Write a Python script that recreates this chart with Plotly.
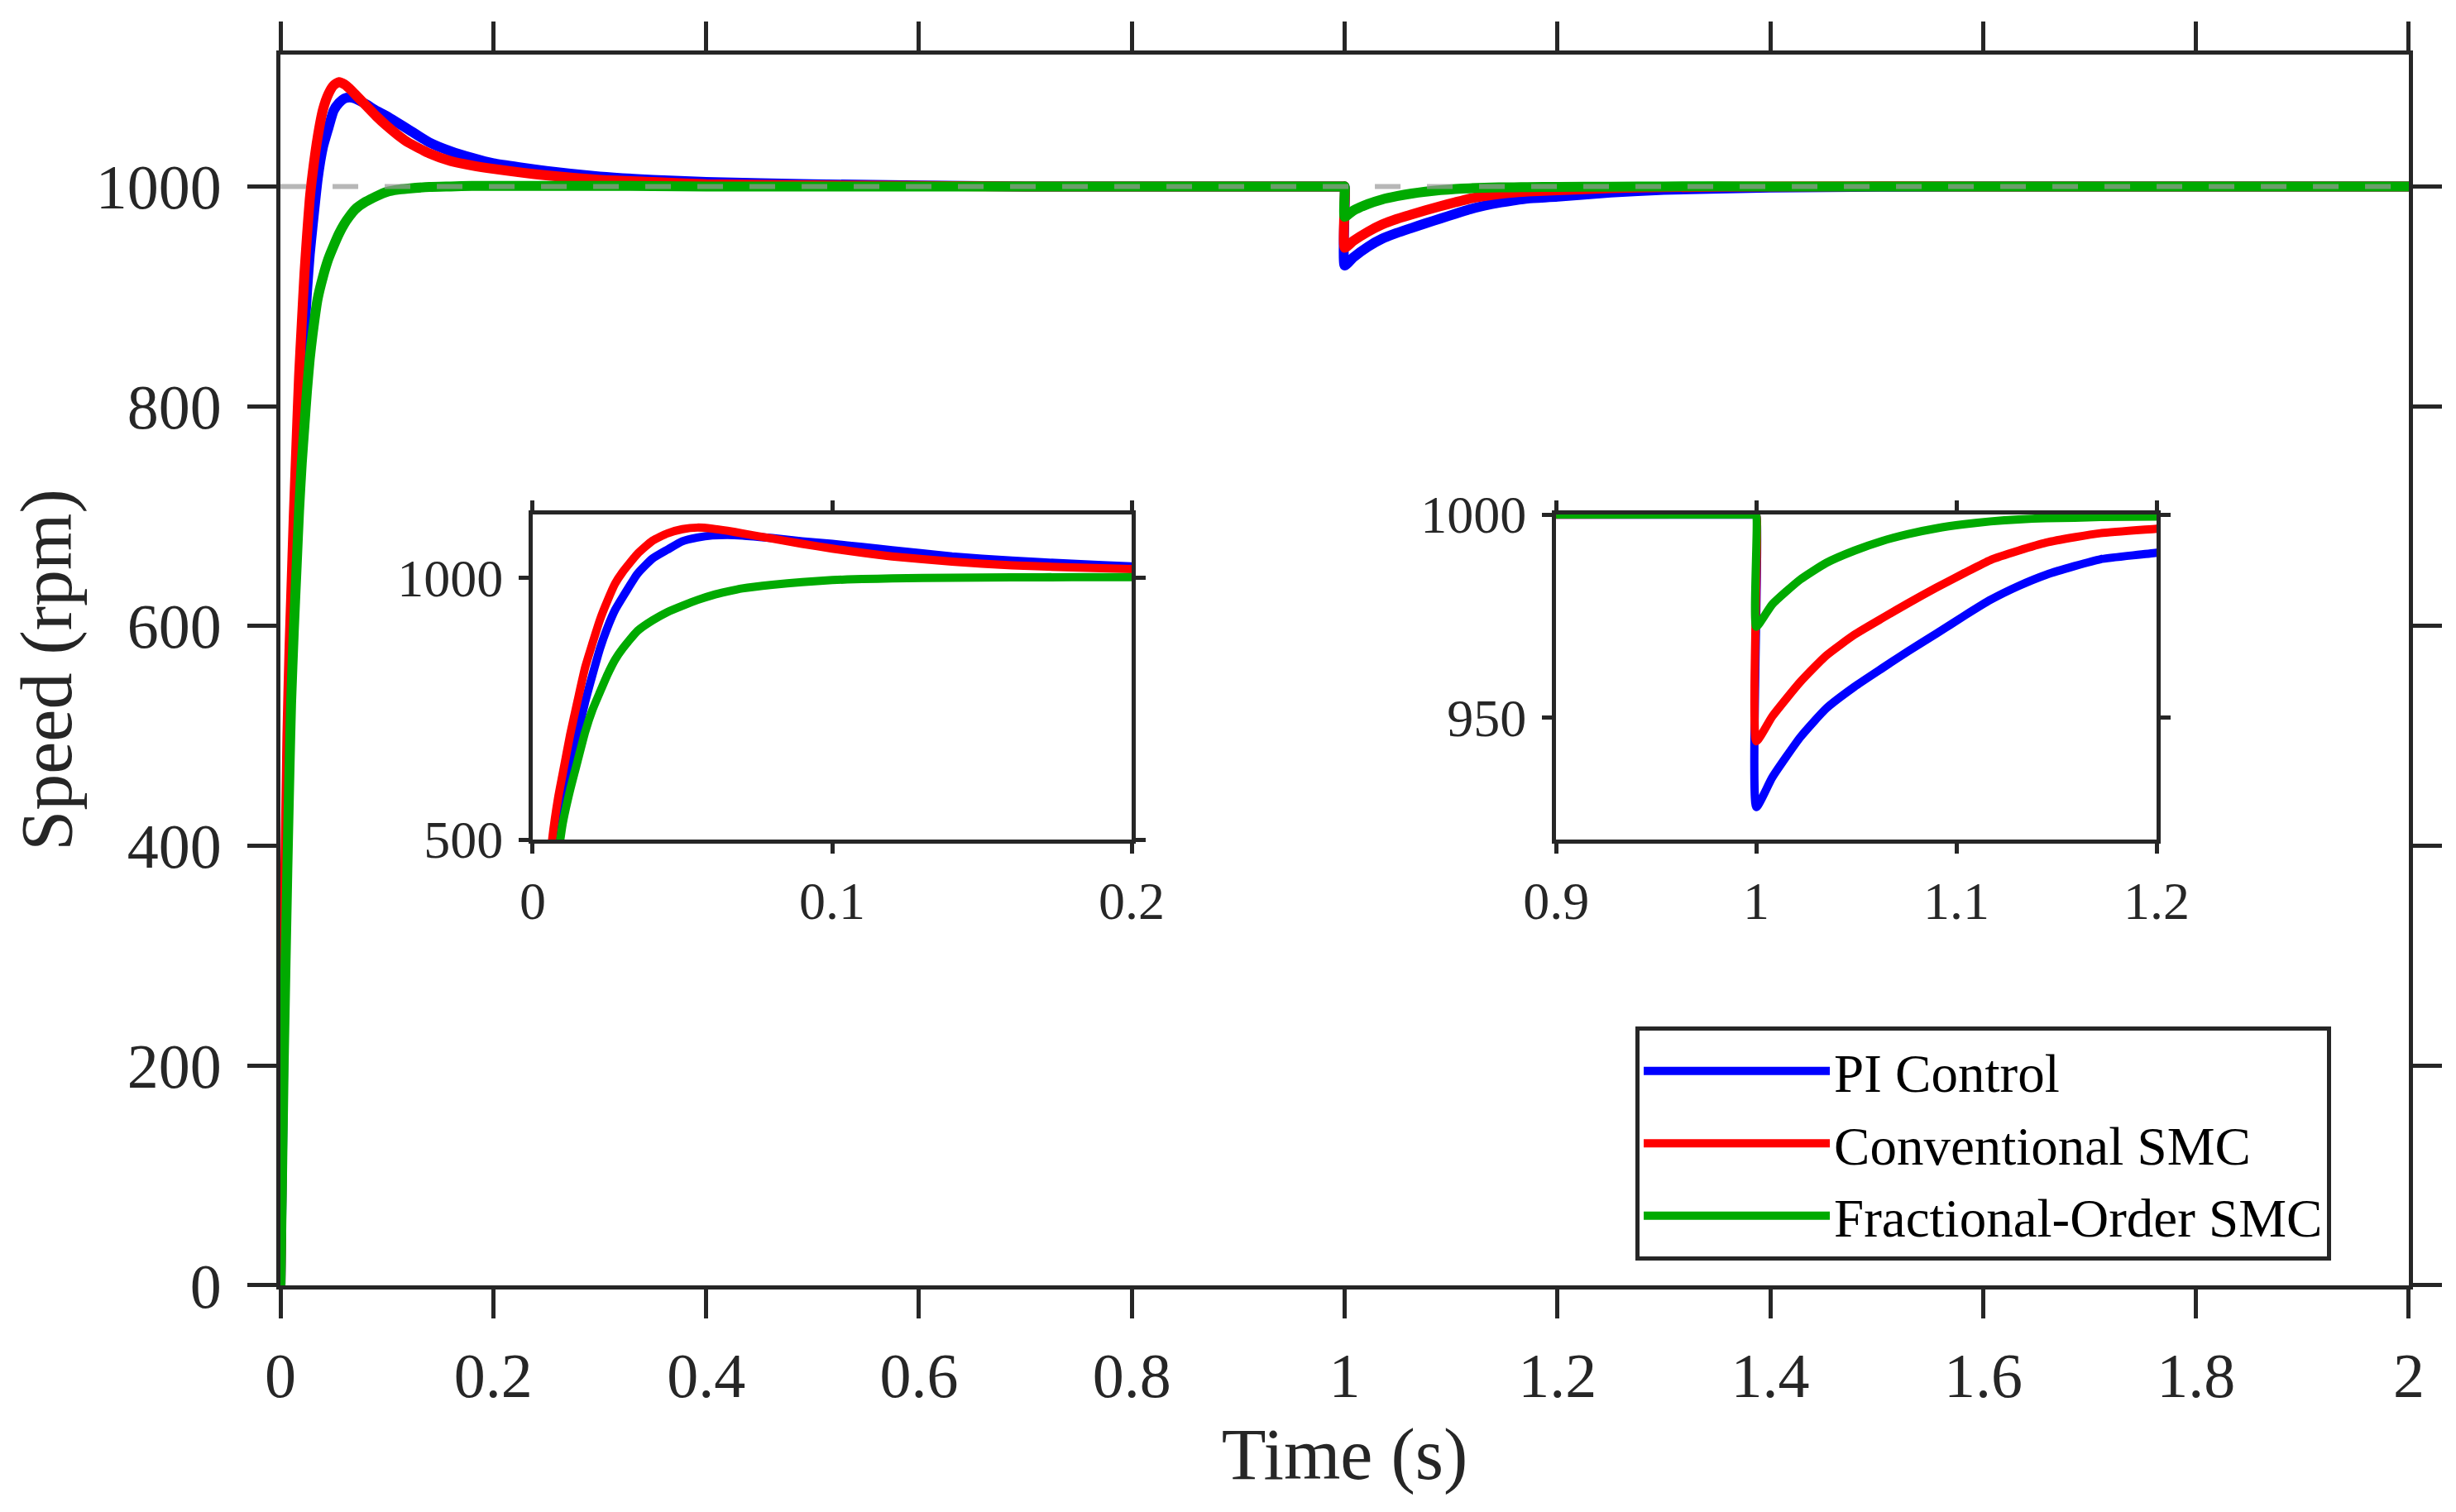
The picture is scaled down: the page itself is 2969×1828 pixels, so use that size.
import plotly.graph_objects as go

# start-up transient
t_start = [0, 0.003, 0.0065, 0.0085, 0.01, 0.0125, 0.015, 0.0175, 0.02, 0.0225,
           0.025, 0.0275, 0.03, 0.035, 0.04, 0.045, 0.05, 0.055, 0.06, 0.065,
           0.07, 0.08, 0.09, 0.1, 0.11, 0.12, 0.14, 0.16, 0.18, 0.2,
           0.25, 0.3, 0.35, 0.4, 0.5, 0.7, 0.999, 1.0]
pi_start = [0, 240, 420, 505, 550, 628, 700, 762, 815, 865,
            905, 938, 962, 1007, 1036, 1053, 1069, 1076, 1080, 1081,
            1080, 1075, 1069, 1064, 1058, 1052, 1040, 1032, 1026, 1021,
            1014, 1009, 1006, 1004, 1002, 1000, 1000, 1000]
smc_start = [0, 270, 500, 580, 625, 700, 765, 828, 875, 920,
             956, 988, 1010, 1045, 1070, 1084, 1092, 1095, 1093, 1089,
             1084, 1074, 1064, 1055, 1047, 1040, 1030, 1023, 1019, 1016,
             1010, 1006, 1004, 1002, 1001, 1000, 1000, 1000]
fosmc_start = [0, 200, 380, 470, 530, 595, 650, 705, 748, 782,
               815, 843, 864, 898, 918, 934, 946, 957, 966, 973,
               979, 986, 991, 995, 997, 998, 999.5, 1000, 1000.5, 1000.5,
               1000.5, 1000.5, 1000.3, 1000, 1000, 1000, 1000, 1000]

# load disturbance at t = 1 s and recovery
t_load = [1.0, 1.008, 1.022, 1.035, 1.049, 1.063, 1.076, 1.09, 1.104, 1.117,
          1.131, 1.145, 1.159, 1.172, 1.2, 1.25, 1.3, 1.4, 1.6, 2.0]
pi_load = [928, 935.3, 945.2, 952.3, 957.6, 962.2, 966.4, 970.7, 975.1, 979,
           982.4, 985.2, 987.3, 989, 990.6, 994.5, 996.8, 999, 1000, 1000]
smc_load = [944.2, 950.3, 958.8, 965.3, 970.4, 974.5, 978.2, 982, 985.6, 988.8,
            991.1, 993.1, 994.4, 995.4, 996.5, 998.4, 999.3, 1000, 1000, 1000]
fosmc_load = [972.4, 977.9, 984, 988.1, 991.1, 993.5, 995.2, 996.6, 997.6, 998.3,
              998.8, 999.1, 999.2, 999.4, 999.5, 999.8, 1000, 1000, 1000, 1000]

ref_time = [0, 2]
ref_speed = [1000, 1000]

names = ["PI Control", "Conventional SMC", "Fractional-Order SMC"]
colors = ["#0000ff", "#ff0000", "#00aa00"]
time = t_start + t_load
series = [pi_start + pi_load, smc_start + smc_load, fosmc_start + fosmc_load]

FONT = "Liberation Serif"
AXC = "#262626"

fig = go.Figure()

# main plot
for name, col, y in zip(names, colors, series):
    fig.add_trace(go.Scatter(x=time, y=y, mode="lines", name=name,
                             line=dict(color=col, width=12, shape="spline", smoothing=0.5)))
fig.add_trace(go.Scatter(x=ref_time, y=ref_speed, mode="lines", showlegend=False,
                         opacity=0.7, line=dict(color="#999999", width=6, dash="31px,32px")))

# insets
for ax in ["2", "3"]:
    for col, y in zip(colors, series):
        fig.add_trace(go.Scatter(x=time, y=y, mode="lines", showlegend=False,
                                 xaxis="x" + ax, yaxis="y" + ax,
                                 line=dict(color=col, width=10, shape="spline", smoothing=0.5)))


def axis_style(size, ticklen, **kw):
    d = dict(showline=True, linecolor=AXC, linewidth=5, mirror="ticks",
             ticks="outside", ticklen=ticklen, tickwidth=5, tickcolor=AXC,
             showgrid=False, zeroline=False, automargin=False,
             tickfont=dict(family=FONT, size=size, color=AXC))
    d.update(kw)
    return d


fig.update_layout(
    width=2969, height=1828,
    margin=dict(l=0, r=0, t=0, b=0),
    paper_bgcolor="white", plot_bgcolor="white",
    xaxis=axis_style(76, 35, domain=[0.1115, 0.9781], range=[0, 2], dtick=0.2,
                     ticklabelstandoff=4,
                     title=dict(text="Time (s)", font=dict(family=FONT, size=88, color=AXC),
                                standoff=24)),
    yaxis=axis_style(76, 35, domain=[0.1543, 0.9683], range=[0, 1120],
                     tickvals=[0, 200, 400, 600, 800, 1000], ticklabelstandoff=16,
                     title=dict(text="Speed (rpm)", font=dict(family=FONT, size=88, color=AXC),
                                standoff=16)),
    xaxis2=axis_style(64, 12, domain=[0.2142, 0.4581], range=[0, 0.2], dtick=0.1,
                      anchor="y2", ticklabelstandoff=2),
    yaxis2=axis_style(64, 12, domain=[0.4491, 0.6641], range=[500, 1120],
                      tickvals=[500, 1000], anchor="x2", ticklabelstandoff=6),
    xaxis3=axis_style(64, 12, domain=[0.6309, 0.8754], range=[0.9, 1.2], dtick=0.1,
                      anchor="y3", ticklabelstandoff=2),
    yaxis3=axis_style(64, 12, domain=[0.4491, 0.6641], range=[920, 1000],
                      tickvals=[950, 1000], anchor="x3", ticklabelstandoff=6),
    legend=dict(x=0.6632, y=0.3255, xanchor="left", yanchor="top",
                bgcolor="white", bordercolor=AXC, borderwidth=5,
                font=dict(family=FONT, size=65, color="black"),
                itemwidth=225, tracegroupgap=0),
)

fig.write_html("out.html")
